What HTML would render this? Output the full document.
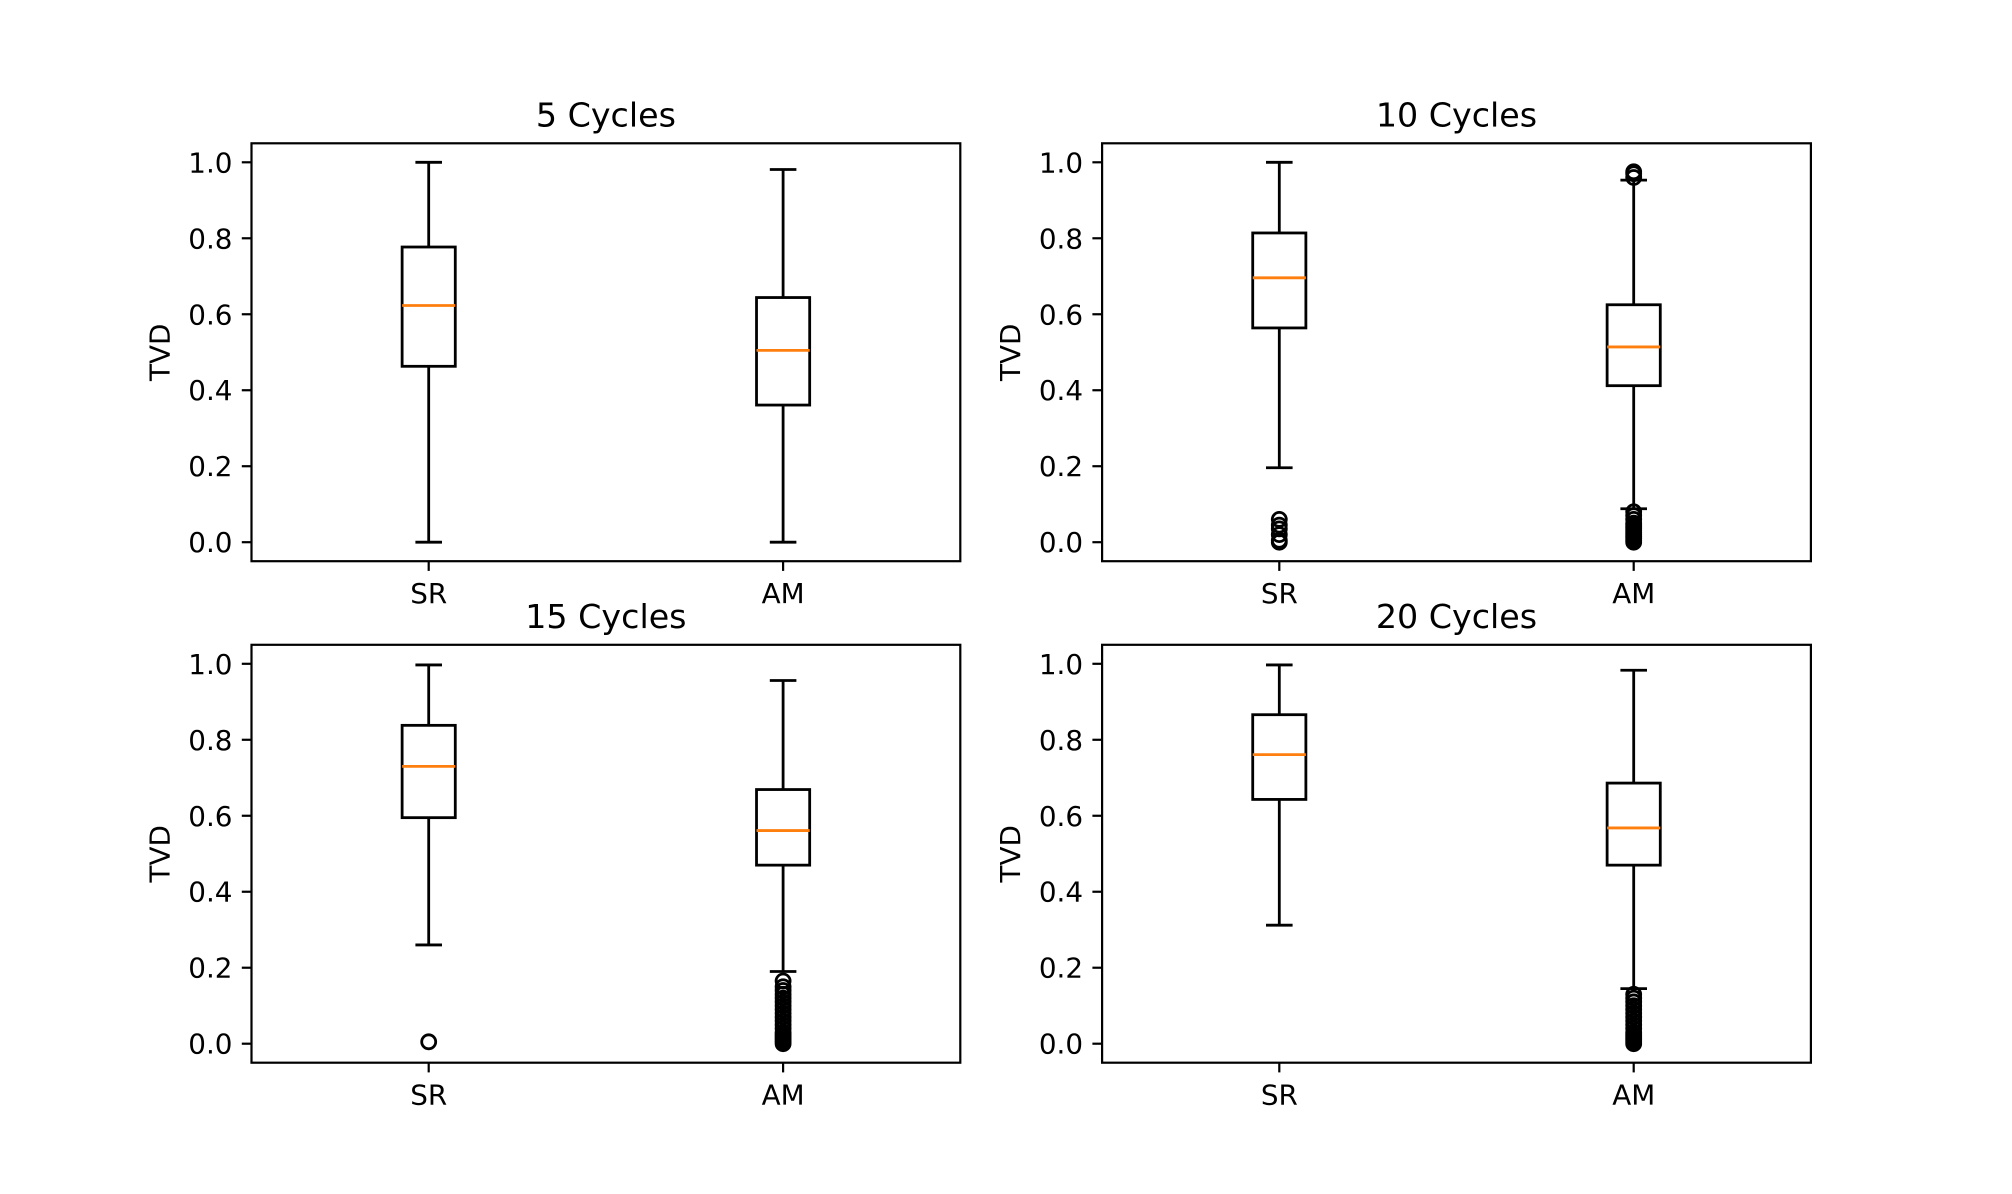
<!DOCTYPE html>
<html><head><meta charset="utf-8"><style>
html,body{margin:0;padding:0;background:#fff;}
svg{display:block;font-family:"DejaVu Sans","Liberation Sans",sans-serif;}
</style></head><body>
<svg id="fig" width="2012" height="1194" viewBox="0 0 2012 1194" xmlns="http://www.w3.org/2000/svg"></svg>
<script>
const categories = ["SR", "AM"];
const panelTitles = ["5 Cycles", "10 Cycles", "15 Cycles", "20 Cycles"];
const yTicks = [0.0, 0.2, 0.4, 0.6, 0.8, 1.0];
const yTickLabels = ["0.0", "0.2", "0.4", "0.6", "0.8", "1.0"];
// [whislo, q1, med, q3, whishi] per panel per category
const stats5 = [[0.0, 0.463, 0.623, 0.777, 1.0], [0.0, 0.361, 0.505, 0.644, 0.981]];
const stats10 = [[0.196, 0.564, 0.696, 0.814, 1.0], [0.088, 0.412, 0.514, 0.625, 0.953]];
const stats15 = [[0.26, 0.595, 0.73, 0.838, 0.997], [0.19, 0.47, 0.561, 0.669, 0.956]];
const stats20 = [[0.312, 0.643, 0.761, 0.866, 0.997], [0.145, 0.47, 0.568, 0.686, 0.983]];
const fliers5 = [[], []];
const fliers10 = [[0.0, 0.005, 0.02, 0.035, 0.045, 0.06], [0.0, 0.005, 0.01, 0.015, 0.02, 0.025, 0.03, 0.035, 0.04, 0.045, 0.05, 0.06, 0.07, 0.08, 0.96, 0.97, 0.975]];
const fliers15 = [[0.005], [0.0, 0.005, 0.01, 0.015, 0.02, 0.025, 0.03, 0.04, 0.05, 0.06, 0.07, 0.08, 0.09, 0.1, 0.11, 0.12, 0.13, 0.14, 0.15, 0.165]];
const fliers20 = [[], [0.0, 0.005, 0.01, 0.015, 0.02, 0.025, 0.03, 0.04, 0.05, 0.06, 0.07, 0.08, 0.09, 0.1, 0.11, 0.12, 0.13]];

const allStats = [stats5, stats10, stats15, stats20];
const allFliers = [fliers5, fliers10, fliers15, fliers20];
const NS = "http://www.w3.org/2000/svg";
const svg = document.getElementById("fig");
function mk(tag, attrs, parent) {
  const e = document.createElementNS(NS, tag);
  for (const k in attrs) e.setAttribute(k, attrs[k]);
  (parent || svg).appendChild(e);
  return e;
}
const axW = 708.8, axH = 417.9;
const lefts = [251.5, 1102.1], tops = [143.3, 644.8];
for (let p = 0; p < 4; p++) {
  const L = lefts[p % 2], T = tops[Math.floor(p / 2)];
  const g = mk("g", {});
  
  
  const xs = v => L + (v - 0.5) / 2.0 * axW;
  const ys = v => T + (1.05 - v) / 1.1 * axH;
  yTicks.forEach((t, i) => {
    const y = ys(t);
    mk("line", {x1: L - 9.7, x2: L, y1: y, y2: y, stroke: "#000", "stroke-width": 2.2}, g);
    const tx = mk("text", {x: L - 19, y: y + 10, "text-anchor": "end", "font-size": 27.8, fill: "#000"}, g);
    tx.textContent = yTickLabels[i];
    
    
  });
  categories.forEach((c, i) => {
    const x = xs(i + 1);
    mk("line", {x1: x, x2: x, y1: T + axH, y2: T + axH + 9.7, stroke: "#000", "stroke-width": 2.2}, g);
    const tx = mk("text", {x: x, y: T + axH + 42, "text-anchor": "middle", "font-size": 27.8, fill: "#000"}, g);
    tx.textContent = c;
    
    
  });
  allStats[p].forEach((s, i) => {
    const x = xs(i + 1);
    const hw = 0.075 * axW / 2.0, cw = 0.0375 * axW / 2.0;
    const bg = mk("g", {stroke: "#000", "stroke-width": 2.8, fill: "none"}, g);
    
    
    mk("line", {x1: x, x2: x, y1: ys(s[0]), y2: ys(s[1])}, bg);
    mk("line", {x1: x, x2: x, y1: ys(s[3]), y2: ys(s[4])}, bg);
    mk("line", {x1: x - cw, x2: x + cw, y1: ys(s[0]), y2: ys(s[0])}, bg);
    mk("line", {x1: x - cw, x2: x + cw, y1: ys(s[4]), y2: ys(s[4])}, bg);
    mk("rect", {x: x - hw, y: ys(s[3]), width: 2 * hw, height: ys(s[1]) - ys(s[3])}, bg);
    mk("line", {x1: x - hw, x2: x + hw, y1: ys(s[2]), y2: ys(s[2]), stroke: "#ff7f0e"}, bg);
    allFliers[p][i].forEach(v => {
      const c = mk("circle", {cx: x, cy: ys(v), r: 7, "stroke-width": 2.8}, bg);
      
      
    });
  });
  const fr = mk("rect", {x: L, y: T, width: axW, height: axH, fill: "none", stroke: "#000", "stroke-width": 2.2}, g);
  
  
  const tt = mk("text", {x: L + axW / 2, y: T - 17, "text-anchor": "middle", "font-size": 33.3, fill: "#000"}, g);
  tt.textContent = panelTitles[p];
  
  
  const yl = mk("text", {x: 0, y: 0, "text-anchor": "middle", "font-size": 27.8, fill: "#000", transform: `translate(${L - 82},${T + axH / 2}) rotate(-90)`}, g);
  yl.textContent = "TVD";
  
  
}
</script>
</body></html>
